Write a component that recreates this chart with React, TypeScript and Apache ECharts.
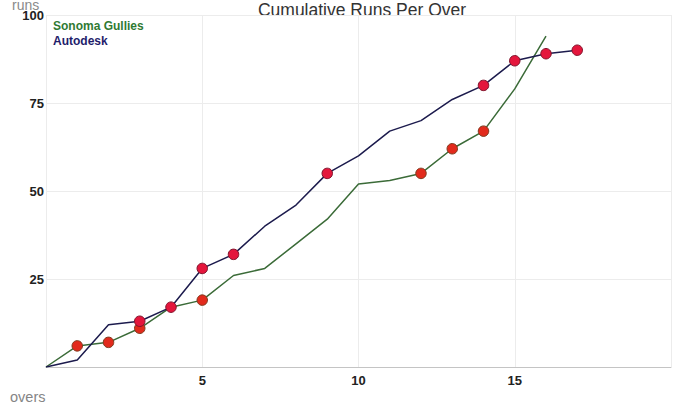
import React, { useEffect, useRef } from "react";
import * as echarts from "echarts";

const TITLE = "Cumulative Runs Per Over";
const X_NAME = "overs";
const Y_NAME = "runs";
const TEAMS = ["Sonoma Gullies", "Autodesk"];
const TEAM_COLORS = ["#3b6b38", "#1c1b4d"];
const LEGEND_COLORS = ["#2f7a33", "#1f1d6b"];

// cumulative runs at the end of each over (index = over)
const sonomaRuns = [0, 6, 7, 11, 17, 19, 26, 28, 35, 42, 52, 53, 55, 62, 67, 79, 94];
const autodeskRuns = [0, 2, 12, 13, 17, 28, 32, 40, 46, 55, 60, 67, 70, 76, 80, 87, 89, 90];

// overs in which a wicket fell
const sonomaWickets = [1, 2, 3, 5, 12, 13, 14];
const autodeskWickets = [3, 4, 5, 6, 9, 14, 15, 16, 17];

const X_TICKS = [0, 5, 10, 15, 20];
const Y_TICKS = [0, 25, 50, 75, 100];

const FONT = "'Liberation Sans', Arial, Helvetica, sans-serif";

export default function App() {
  const ref = useRef<HTMLDivElement>(null);

  useEffect(() => {
    document.body.style.margin = "0";
    const chart = echarts.init(ref.current!, null, { renderer: "svg" });

    const lineData = (runs: number[]) => runs.map((r, i) => [i, r]);
    const wicketData = (runs: number[], w: number[]) => w.map((o) => [o, runs[o]]);

    chart.setOption({
      animation: false,
      textStyle: { fontFamily: FONT },
      grid: { left: 46, right: 9, top: 23, bottom: 40, containLabel: false },
      xAxis: {
        type: "value",
        min: X_TICKS[0],
        max: X_TICKS[X_TICKS.length - 1],
        interval: X_TICKS[1] - X_TICKS[0],
        axisLine: { show: true, lineStyle: { color: "#c4c4c4", width: 1 } },
        axisTick: { show: false },
        splitLine: { show: true, lineStyle: { color: "#ececec", width: 1 } },
        axisLabel: {
          showMinLabel: false,
          showMaxLabel: false,
          color: "#222",
          fontWeight: "bold",
          fontSize: 13,
          margin: 7,
          fontFamily: FONT,
        },
      },
      yAxis: {
        type: "value",
        min: Y_TICKS[0],
        max: Y_TICKS[Y_TICKS.length - 1],
        interval: Y_TICKS[1] - Y_TICKS[0],
        axisLine: { show: false },
        axisTick: { show: false },
        splitLine: { show: true, lineStyle: { color: "#ececec", width: 1 } },
        axisLabel: {
          showMinLabel: false,
          color: "#222",
          fontWeight: "bold",
          fontSize: 13,
          margin: 2,
          padding: [4, 0, 0, 0],
          verticalAlign: "middle",
          fontFamily: FONT,
        },
      },
      graphic: [
        {
          type: "text",
          x: 362,
          y: 27,
          style: {
            text: TITLE,
            fill: "#333",
            font: `17.5px ${FONT}`,
            textAlign: "center",
            textVerticalAlign: "bottom",
          },
        },
        {
          type: "text",
          x: 12,
          y: 20,
          style: {
            text: Y_NAME,
            fill: "#8a8a8a",
            font: `14px ${FONT}`,
            textAlign: "left",
            textVerticalAlign: "bottom",
          },
        },
        {
          type: "text",
          x: 10,
          y: 412,
          style: {
            text: X_NAME,
            fill: "#858585",
            font: `14.5px ${FONT}`,
            textAlign: "left",
            textVerticalAlign: "bottom",
          },
        },
        {
          type: "text",
          x: 53,
          y: 34,
          style: {
            text: TEAMS[0],
            fill: LEGEND_COLORS[0],
            font: `bold 12px ${FONT}`,
            textAlign: "left",
            textVerticalAlign: "middle",
          },
        },
        {
          type: "text",
          x: 53,
          y: 49,
          style: {
            text: TEAMS[1],
            fill: LEGEND_COLORS[1],
            font: `bold 12px ${FONT}`,
            textAlign: "left",
            textVerticalAlign: "middle",
          },
        },
      ],
      series: [
        {
          name: TEAMS[0],
          type: "line",
          data: lineData(sonomaRuns),
          symbol: "none",
          lineStyle: { color: TEAM_COLORS[0], width: 1.5 },
          z: 2,
        },
        {
          name: TEAMS[1],
          type: "line",
          data: lineData(autodeskRuns),
          symbol: "none",
          lineStyle: { color: TEAM_COLORS[1], width: 1.5 },
          z: 2,
        },
        {
          name: TEAMS[0] + " wickets",
          type: "scatter",
          data: wicketData(sonomaRuns, sonomaWickets),
          symbol: "circle",
          symbolSize: 10.5,
          itemStyle: { color: "#e22a1c", borderColor: "#7e3a1e", borderWidth: 1, opacity: 1 },
          z: 3,
        },
        {
          name: TEAMS[1] + " wickets",
          type: "scatter",
          data: wicketData(autodeskRuns, autodeskWickets),
          symbol: "circle",
          symbolSize: 10.5,
          itemStyle: { color: "#e4163c", borderColor: "#80132b", borderWidth: 1, opacity: 1 },
          z: 3,
        },
      ],
    });

    return () => chart.dispose();
  }, []);

  return (
    <div
      ref={ref}
      style={{ position: "absolute", left: 0, top: -8, width: 680, height: 415 }}
    />
  );
}
